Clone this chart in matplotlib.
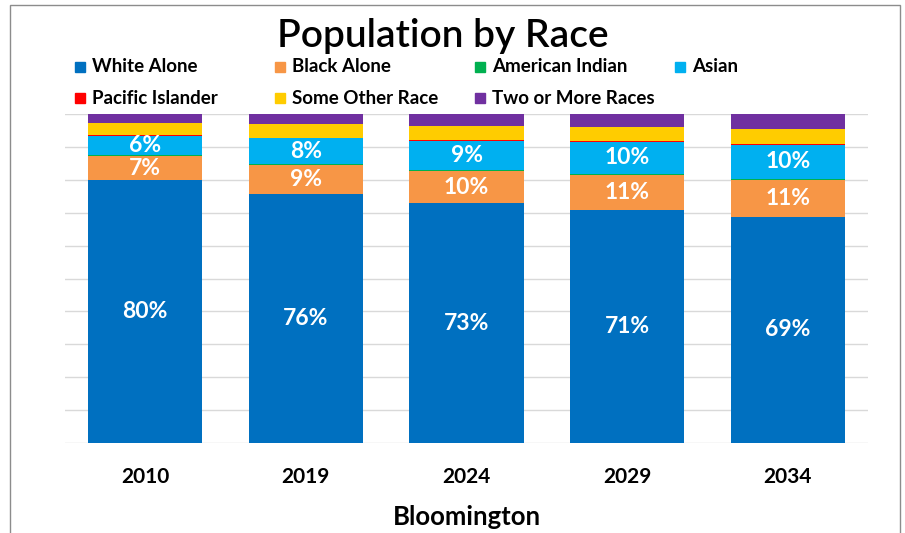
import matplotlib.pyplot as plt
import matplotlib.patches as mpatches
import numpy as np

plt.rcParams["font.family"] = ["Lato", "DejaVu Sans"]

# Data (percent of population)
years = ["2010", "2019", "2024", "2029", "2034"]
races = ["White Alone", "Black Alone", "American Indian", "Asian",
         "Pacific Islander", "Some Other Race", "Two or More Races"]
white = [79.8, 75.7, 72.8, 70.7, 68.8]
black = [7.3, 8.8, 10.0, 10.8, 11.2]
amer_indian = [0.3, 0.3, 0.3, 0.3, 0.3]
asian = [6.0, 7.9, 8.8, 9.8, 10.4]
pacific = [0.1, 0.1, 0.1, 0.1, 0.1]
other = [3.8, 4.1, 4.4, 4.2, 4.7]
two_more = [2.7, 3.1, 3.6, 4.1, 4.5]

series = [white, black, amer_indian, asian, pacific, other, two_more]
colors = ["#0070C0", "#F79646", "#00B050", "#00B0F0", "#FF0000", "#FFCC00", "#7030A0"]
labelled = {0, 1, 3}

fig = plt.figure(figsize=(9.05, 5.33), dpi=100)
ax = fig.add_axes([65 / 905, 90 / 533, 803 / 905, 329 / 533])

x = np.arange(len(years))
bottom = np.zeros(len(years))
for i, (vals, col) in enumerate(zip(series, colors)):
    vals = np.array(vals)
    ax.bar(x, vals, 0.71, bottom=bottom, color=col, zorder=3)
    if i in labelled:
        for xi, v, b in zip(x, vals, bottom):
            ax.text(xi, b + v / 2, f"{v:.0f}%", ha="center", va="center",
                    color="white", fontsize=16.5, fontweight="bold", zorder=4)
    bottom += vals

ax.set_xlim(-0.5, len(years) - 0.5)
ax.set_ylim(0, 100)
ax.set_yticks(np.arange(0, 101, 10))
ax.set_yticklabels([])
ax.tick_params(axis="y", length=0)
ax.tick_params(axis="x", length=0, pad=17)
ax.grid(axis="y", color="#D9D9D9", linewidth=1, zorder=0)
for s in ax.spines.values():
    s.set_visible(False)
ax.set_xticks(x)
ax.set_xticklabels(years, fontsize=15, fontweight="bold")
ax.set_xlabel("Bloomington", fontsize=18.5, fontweight="bold", labelpad=13)

# title
fig.text(443 / 905, 1 - 36 / 533, "Population by Race", ha="center", va="center",
         fontsize=28, fontweight="semibold")

# legend laid out in fixed-width columns
for i, (name, col) in enumerate(zip(races, colors)):
    r, c = divmod(i, 4)
    px = 75 + c * 200
    py = 67 + r * 31
    fig.patches.append(mpatches.Rectangle((px / 905, 1 - (py + 5) / 533), 10 / 905, 10 / 533,
                                          transform=fig.transFigure, color=col))
    fig.text((px + 17) / 905, 1 - py / 533, name, ha="left", va="center",
             fontsize=13.5, fontweight="bold")

# outer border
fig.patches.append(mpatches.Rectangle((10 / 905, -0.05), 890 / 905, 1.05 - 5 / 533,
                                      transform=fig.transFigure, fill=False,
                                      edgecolor="#8C8C8C", linewidth=1))

fig.savefig("out.png", dpi=100)
